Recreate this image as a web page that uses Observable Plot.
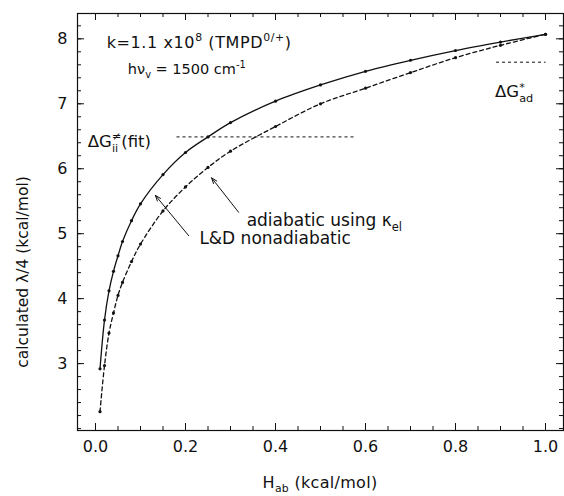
<!DOCTYPE html>
<html><head><meta charset="utf-8">
<script src="https://cdn.jsdelivr.net/npm/d3@7"></script>
<script src="https://cdn.jsdelivr.net/npm/@observablehq/plot@0.6"></script>
<style>
body{margin:0;background:#fff}
#chart svg{font-family:"DejaVu Sans",sans-serif;}
</style>
</head><body><div id="chart"></div>
<script>
// H_ab values (kcal/mol)
const hab = [0.01,0.02,0.03,0.04,0.05,0.06,0.08,0.10,0.15,0.20,0.25,0.30,0.40,0.50,0.60,0.70,0.80,0.90,1.00];
// L&D nonadiabatic (solid)
const nonadiabatic = [2.92,3.67,4.12,4.42,4.66,4.88,5.20,5.46,5.91,6.25,6.49,6.71,7.04,7.29,7.50,7.67,7.82,7.95,8.07];
// adiabatic using kappa_el (dashed)
const adiabatic = [2.26,2.97,3.47,3.78,4.05,4.25,4.57,4.84,5.35,5.72,6.02,6.27,6.65,7.00,7.24,7.48,7.71,7.90,8.07];

const xTicks = [0, 0.2, 0.4, 0.6, 0.8, 1.0];
const xTickLabels = ["0.0","0.2","0.4","0.6","0.8","1.0"];
const xMinor = [0,0.05,0.1,0.15,0.2,0.25,0.3,0.35,0.4,0.45,0.5,0.55,0.6,0.65,0.7,0.75,0.8,0.85,0.9,0.95,1.0];
const yTicks = [3,4,5,6,7,8];
const yTickLabels = ["3","4","5","6","7","8"];
const yMinor = [2.0,2.2,2.4,2.6,2.8,3.0,3.2,3.4,3.6,3.8,4.0,4.2,4.4,4.6,4.8,5.0,5.2,5.4,5.6,5.8,6.0,6.2,6.4,6.6,6.8,7.0,7.2,7.4,7.6,7.8,8.0,8.2];

// horizontal reference levels
const refLines = [
  {x1: 0.18, x2: 0.58, y: 6.49},   // ΔG≠ii(fit)
  {x1: 0.89, x2: 1.00, y: 7.64}    // ΔG*ad
];
// annotation arrows
const arrows = [
  {x1: 0.318, y1: 5.33, x2: 0.258, y2: 5.86},  // adiabatic using κel
  {x1: 0.207, y1: 4.97, x2: 0.133, y2: 5.59}   // L&D nonadiabatic
];

const solid = hab.map((x, i) => ({x, y: nonadiabatic[i]}));
const dashed = hab.map((x, i) => ({x, y: adiabatic[i]}));

const xDomain = [-0.04, 1.04];
const yDomain = [1.97, 8.39];

const W = 564, H = 496, MT = 13, MB = 66, ML = 77, MR = 1;
const innerH = H - MT - MB, innerW = W - ML - MR;

// inward ticks as short rules (full-span rule shortened by an inset)
const tickB = (data, len) => Plot.ruleX(data, {x: (d) => d, insetTop: innerH - len, stroke: "#111", strokeWidth: 1});
const tickT = (data, len) => Plot.ruleX(data, {x: (d) => d, insetBottom: innerH - len, stroke: "#111", strokeWidth: 1});
const tickL = (data, len) => Plot.ruleY(data, {y: (d) => d, insetRight: innerW - len, stroke: "#111", strokeWidth: 1});
const tickR = (data, len) => Plot.ruleY(data, {y: (d) => d, insetLeft: innerW - len, stroke: "#111", strokeWidth: 1});

const plot = Plot.plot({
  width: W,
  height: H,
  marginTop: MT,
  marginBottom: MB,
  marginLeft: ML,
  marginRight: MR,
  style: {fontFamily: "DejaVu Sans, sans-serif", fontSize: "16px", color: "#111", background: "#fff"},
  x: {domain: xDomain},
  y: {domain: yDomain},
  marks: [
    Plot.frame({stroke: "#111", fill: "none", strokeWidth: 1.2}),
    tickB(xMinor, 4), tickB(xTicks, 7),
    tickT(xMinor, 4), tickT(xTicks, 7),
    tickL(yMinor, 4), tickL(yTicks, 7),
    tickR(yMinor, 4), tickR(yTicks, 7),
    // tick labels
    Plot.axisX(xTicks, {anchor: "bottom", tickSize: 0, tickPadding: 10, tickFormat: (d) => xTickLabels[xTicks.indexOf(d)], label: null, fontSize: 16}),
    Plot.axisY(yTicks, {anchor: "left", tickSize: 0, tickPadding: 10, tickFormat: (d) => yTickLabels[yTicks.indexOf(d)], label: null, fontSize: 16}),
    // reference dashed levels
    Plot.link(refLines, {x1: "x1", x2: "x2", y1: "y", y2: "y", stroke: "#111", strokeWidth: 1, strokeDasharray: "3,3"}),
    // curves
    Plot.line(solid, {x: "x", y: "y", curve: "catmull-rom", stroke: "#111", strokeWidth: 1.3}),
    Plot.line(dashed, {x: "x", y: "y", curve: "catmull-rom", stroke: "#111", strokeWidth: 1.3, strokeDasharray: "4,3"}),
    Plot.dot(solid, {x: "x", y: "y", r: 1.6, fill: "#111"}),
    Plot.dot(dashed, {x: "x", y: "y", r: 1.6, fill: "#111"}),
    // arrows
    Plot.arrow(arrows, {x1: "x1", y1: "y1", x2: "x2", y2: "y2", stroke: "#111", strokeWidth: 1, headLength: 9, headAngle: 40})
  ]
});

document.getElementById("chart").appendChild(plot);

const xs = plot.scale("x"), ys = plot.scale("y");
const svg = d3.select(plot);

// rich text: parts {t, s (size factor), dy (em shift), same (stack on previous start)}
function rich(px, py, parts, size, spacing = 0) {
  const g = svg.append("g").attr("fill", "#111").attr("text-anchor", "start")
    .attr("font-family", "DejaVu Sans, sans-serif");
  let cx = px, prevStart = px, prevEnd = px;
  for (const p of parts) {
    const fs = size * (p.s || 1);
    const start = p.same ? prevStart : cx;
    const t = g.append("text").attr("x", start).attr("y", py + (p.dy || 0) * size)
      .attr("font-size", fs).attr("text-anchor", "start")
      .style("white-space", "pre").style("letter-spacing", spacing + "px").text(p.t);
    const w = t.node().getComputedTextLength();
    if (p.same) { cx = Math.max(prevEnd, start + w); }
    else { prevStart = start; prevEnd = start + w; cx = start + w; }
  }
  return {g, width: cx - px};
}

const SUP = {s: 0.68, dy: -0.42};
const SUB = {s: 0.68, dy: 0.3};

// k = 1.1 x10^8 (TMPD^0/+)
rich(xs.apply(0.026), ys.apply(7.85), [
  {t: "k=1.1 x10"}, {t: "8", ...SUP}, {t: " (TMPD"}, {t: "0/+", ...SUP}, {t: ")"}
], 16, 0.6);
// hν_v = 1500 cm^-1
rich(xs.apply(0.073), ys.apply(7.45), [
  {t: "hν"}, {t: "v", ...SUB}, {t: " = 1500 cm"}, {t: "-1", ...SUP}
], 14.5);
// ΔG≠ii(fit)
rich(xs.apply(-0.016), ys.apply(6.33), [
  {t: "ΔG"}, {t: "≠", ...SUP}, {t: "ii", ...SUB, same: true}, {t: "(fit)"}
], 16.5);
// ΔG*ad
rich(xs.apply(0.889), ys.apply(7.09), [
  {t: "ΔG"}, {t: "*", ...SUP}, {t: "ad", ...SUB, same: true}
], 16.5);
// adiabatic using κel
rich(xs.apply(0.337), ys.apply(5.11), [
  {t: "adiabatic using κ"}, {t: "el", ...SUB}
], 17);
// L&D nonadiabatic
rich(xs.apply(0.232), ys.apply(4.83), [
  {t: "L&D nonadiabatic"}
], 17);

// x-axis label, centered at H = 0.5
{
  const r = rich(0, 488, [{t: "H"}, {t: "ab", s: 0.68, dy: 0.22}, {t: " (kcal/mol)"}], 16, 0.3);
  r.g.attr("transform", `translate(${xs.apply(0.5) - r.width / 2},0)`);
}
// y-axis label, rotated
{
  const cxp = 28, cyp = 272;
  const r = rich(0, 0, [{t: "calculated λ/4 (kcal/mol)"}], 15.5);
  r.g.attr("transform", `translate(${cxp},${cyp + r.width / 2}) rotate(-90)`);
}
</script>
</body></html>
